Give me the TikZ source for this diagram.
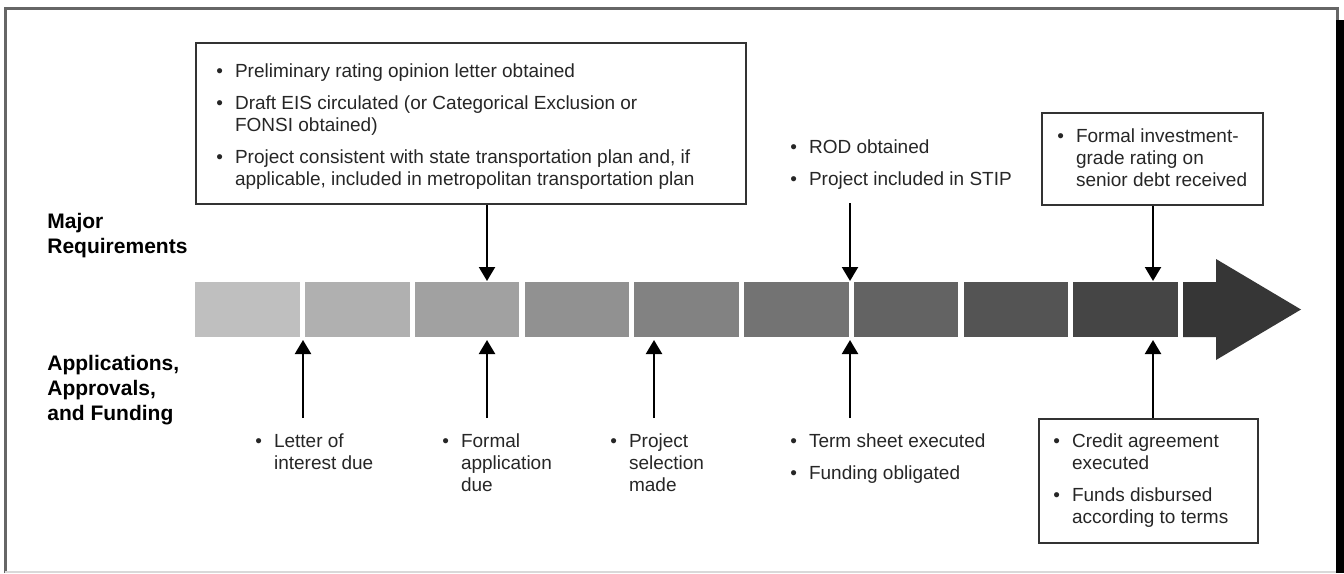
\documentclass[tikz,border=0pt]{standalone}
\usepackage{fontspec}
\setmainfont{Liberation Sans}
\usetikzlibrary{arrows.meta}

\begin{document}
\begin{tikzpicture}
        [x=0.5pt,y=-0.5pt,auto=left]
        \tikzstyle{every node}=[inner sep=0pt, anchor=base west]
        \tikzstyle{txt}=[font=\fontsize{9.5}{11}\selectfont, text=black!85]
        \tikzstyle{head}=[font=\fontsize{10.5}{12.5}\selectfont\bfseries]
        \tikzstyle{box}=[draw=black!80, line width=0.9pt, anchor=north west]
        \tikzstyle{blk}=[anchor=north west, minimum width=52.25pt, minimum height=27.5pt]
        \tikzstyle{arr}=[line width=1.1pt, -{Triangle[width=8pt,length=7pt]}]
        \useasboundingbox (0,0) rectangle (1344,573);
        %-----frame
        \draw[black!60, line width=1.5pt] (5,573) -- (5,8) -- (1337,8) -- (1337,20);
        \fill[black] (1336,20) rectangle (1344,573);
        \draw[black!15, line width=1pt] (5,572) -- (1336,572);

        %-----side labels
        \node[head] (MR) at (47,228) {\begin{tabular}[t]{@{}l@{}}Major\\Requirements\end{tabular}};
        \node[head] (AF) at (47,370) {\begin{tabular}[t]{@{}l@{}}Applications,\\Approvals,\\and Funding\end{tabular}};

        %-----timeline
        \foreach \i in {1,...,9}{
          \pgfmathtruncatemacro{\s}{19+6*\i}
          \pgfmathsetmacro{\xx}{195+109.75*(\i-1)}
          \node[blk, fill=black!\s] (b\i) at (\xx,282) {};
        }
        \fill[black!79] (1183,282) -- (1216,282) -- (1216,259) -- (1301,309.5)
             -- (1216,360) -- (1216,337) -- (1183,337) -- cycle;

        %-----major requirements
        \node[box, minimum width=275pt, minimum height=80.5pt] (RQA) at (195,42) {};
        \node[txt] (RQAt) at (216,77) {\begin{tabular}[t]{@{}l@{\hspace{6pt}}l@{}}
          \textbullet & Preliminary rating opinion letter obtained\\[5pt]
          \textbullet & Draft EIS circulated (or Categorical Exclusion or\\
                      & FONSI obtained)\\[5pt]
          \textbullet & Project consistent with state transportation plan and, if\\
                      & applicable, included in metropolitan transportation plan
        \end{tabular}};
        \node[txt] (RQB) at (790,153) {\begin{tabular}[t]{@{}l@{\hspace{6pt}}l@{}}
          \textbullet & ROD obtained\\[5pt]
          \textbullet & Project included in STIP
        \end{tabular}};
        \node[box, minimum width=110.5pt, minimum height=46pt] (RQC) at (1041,112) {};
        \node[txt] (RQCt) at (1057,142) {\begin{tabular}[t]{@{}l@{\hspace{6pt}}l@{}}
          \textbullet & Formal investment-\\
                      & grade rating on\\
                      & senior debt received
        \end{tabular}};

        %-----applications, approvals, funding
        \node[txt] (APA) at (255,447) {\begin{tabular}[t]{@{}l@{\hspace{6pt}}l@{}}
          \textbullet & Letter of\\ & interest due
        \end{tabular}};
        \node[txt] (APB) at (442,447) {\begin{tabular}[t]{@{}l@{\hspace{6pt}}l@{}}
          \textbullet & Formal\\ & application\\ & due
        \end{tabular}};
        \node[txt] (APC) at (610,447) {\begin{tabular}[t]{@{}l@{\hspace{6pt}}l@{}}
          \textbullet & Project\\ & selection\\ & made
        \end{tabular}};
        \node[txt] (APD) at (790,447) {\begin{tabular}[t]{@{}l@{\hspace{6pt}}l@{}}
          \textbullet & Term sheet executed\\[5pt]
          \textbullet & Funding obligated
        \end{tabular}};
        \node[box, minimum width=109.5pt, minimum height=62pt] (APE) at (1038,418) {};
        \node[txt] (APEt) at (1053,447) {\begin{tabular}[t]{@{}l@{\hspace{6pt}}l@{}}
          \textbullet & Credit agreement\\
                      & executed\\[5pt]
          \textbullet & Funds disbursed\\
                      & according to terms
        \end{tabular}};

        %-----arrow ends
        \coordinate (dA) at (487,281);
        \coordinate (dB) at (850,281);
        \coordinate (dC) at (1153,281);
        \coordinate (sB) at (850,203);
        \coordinate (uA) at (303,340);
        \coordinate (uB) at (487,340);
        \coordinate (uC) at (654,340);
        \coordinate (uD) at (850,340);
        \coordinate (uE) at (1153,340);
        \coordinate (lA) at (303,418);
        \coordinate (lB) at (487,418);
        \coordinate (lC) at (654,418);
        \coordinate (lD) at (850,418);

        \draw[arr] (RQA.south -| dA) -- (dA);
        \draw[arr] (RQC.south -| dC) -- (dC);
        \draw[arr] (APE.north -| uE) -- (uE);
        \foreach \from/\to in {sB/dB,lA/uA,lB/uB,lC/uC,lD/uD}
        \draw[arr] (\from) -- (\to);

        \end{tikzpicture}
\end{document}
